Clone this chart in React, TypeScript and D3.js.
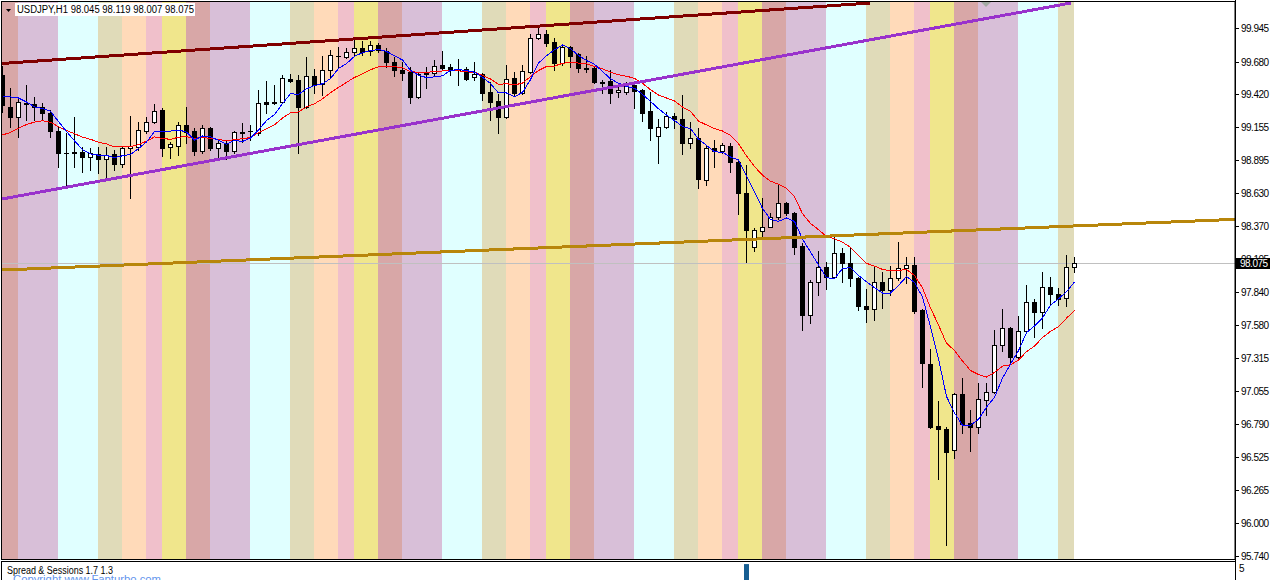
import { useEffect } from "react"
import * as d3 from "d3"

const width = 1275
const height = 580

const symbolTitle = "USDJPY,H1"
const indicatorTitle = "Spread & Sessions 1.7 1.3"
const copyrightText = "Copyright www.Fapturbo.com"

// H1 candles, left to right (bar 0 is cut by the left border)
const opens = [
  99.573, 99.318, 99.239, 99.354, 99.342, 99.318, 99.27, 99.127, 98.952, 98.956,
  98.96, 98.92, 98.944, 98.904, 98.944, 98.864, 98.991, 98.999, 99.127, 99.199,
  99.294, 98.999, 99.007, 99.175, 99.127, 98.968, 99.151, 98.991, 99.031, 98.968,
  99.115, 99.123, 99.111, 99.358, 99.354, 99.358, 99.541, 99.533, 99.318, 99.565,
  99.502, 99.613, 99.725, 99.717, 99.757, 99.788, 99.765, 99.812, 99.765, 99.677,
  99.613, 99.597, 99.398, 99.597, 99.589, 99.653, 99.637, 99.621, 99.621, 99.557,
  99.581, 99.438, 99.366, 99.239, 99.549, 99.43, 99.597, 99.868, 99.9, 99.836,
  99.669, 99.796, 99.741, 99.629, 99.629, 99.517, 99.525, 99.438, 99.438, 99.494,
  99.454, 99.286, 99.087, 99.159, 99.246, 99.223, 99.031, 99.071, 98.736, 98.991,
  98.968, 99.007, 98.88, 98.633, 98.202, 98.33, 98.362, 98.442, 98.553, 98.473,
  98.21, 97.66, 97.923, 98.043, 97.963, 98.155, 98.075, 97.955, 97.732, 97.708,
  97.923, 97.86, 97.955, 98.035, 98.059, 97.7, 97.27, 96.776, 96.752, 96.584,
  97.031, 96.8, 96.768, 96.983, 97.047, 97.421, 97.557, 97.326, 97.533, 97.764,
  97.684, 97.884, 97.828, 97.796, 98.045,
]
const highs = [
  99.645, 99.47, 99.398, 99.494, 99.398, 99.35, 99.294, 99.159, 99.111, 99.239,
  98.999, 98.991, 98.999, 98.999, 98.975, 98.999, 99.246, 99.199, 99.239, 99.342,
  99.31, 99.039, 99.199, 99.318, 99.151, 99.175, 99.159, 99.055, 99.055, 99.127,
  99.191, 99.175, 99.454, 99.525, 99.494, 99.573, 99.581, 99.573, 99.717, 99.621,
  99.725, 99.772, 99.796, 99.788, 99.868, 99.844, 99.844, 99.828, 99.788, 99.717,
  99.677, 99.637, 99.597, 99.637, 99.693, 99.765, 99.661, 99.701, 99.637, 99.677,
  99.589, 99.517, 99.422, 99.653, 99.597, 99.653, 99.9, 99.948, 99.932, 99.868,
  99.812, 99.804, 99.749, 99.725, 99.637, 99.533, 99.613, 99.486, 99.517, 99.509,
  99.462, 99.438, 99.223, 99.278, 99.27, 99.414, 99.199, 99.151, 99.007, 99.055,
  99.031, 99.031, 98.884, 98.856, 98.354, 98.593, 98.473, 98.705, 98.561, 98.481,
  98.234, 97.939, 98.171, 98.083, 98.282, 98.194, 98.194, 97.963, 97.868, 98.043,
  98.003, 98.051, 98.242, 98.123, 98.123, 97.708, 97.389, 96.975, 96.768, 97.039,
  97.158, 96.903, 97.118, 97.118, 97.541, 97.708, 97.565, 97.652, 97.9, 97.788,
  98.003, 97.963, 97.876, 98.139, 98.119,
]
const lows = [
  99.278, 99.159, 99.079, 99.215, 99.215, 99.215, 99.079, 98.84, 98.697, 98.84,
  98.8, 98.816, 98.792, 98.752, 98.816, 98.84, 98.593, 98.975, 99.111, 99.191,
  98.928, 98.912, 98.936, 99.031, 98.936, 98.952, 98.975, 98.912, 98.904, 98.952,
  99.039, 99.055, 99.095, 99.27, 99.342, 99.35, 99.517, 98.952, 99.31, 99.43,
  99.414, 99.549, 99.637, 99.709, 99.725, 99.733, 99.733, 99.757, 99.637, 99.565,
  99.533, 99.35, 99.39, 99.47, 99.573, 99.621, 99.573, 99.494, 99.533, 99.533,
  99.374, 99.215, 99.111, 99.231, 99.414, 99.425, 99.589, 99.86, 99.804, 99.613,
  99.653, 99.637, 99.597, 99.597, 99.509, 99.43, 99.35, 99.398, 99.422, 99.31,
  99.207, 99.055, 98.872, 99.151, 99.151, 98.944, 98.991, 98.673, 98.697, 98.84,
  98.952, 98.8, 98.465, 98.083, 98.171, 98.274, 98.362, 98.426, 98.457, 98.147,
  97.541, 97.597, 97.82, 97.868, 97.955, 97.923, 97.892, 97.7, 97.605, 97.621,
  97.716, 97.82, 97.939, 97.915, 97.676, 97.087, 96.76, 96.353, 95.827, 96.521,
  96.72, 96.577, 96.72, 96.863, 97.039, 97.374, 97.278, 97.318, 97.517, 97.485,
  97.557, 97.74, 97.74, 97.732, 98.007,
]
const closes = [
  99.334, 99.239, 99.358, 99.346, 99.318, 99.27, 99.127, 98.952, 98.948, 98.948,
  98.92, 98.952, 98.904, 98.936, 98.864, 98.991, 99.007, 99.135, 99.199, 99.286,
  98.991, 99.023, 99.175, 99.119, 98.968, 99.151, 98.991, 99.031, 98.968, 99.119,
  99.111, 99.127, 99.35, 99.342, 99.358, 99.549, 99.525, 99.318, 99.565, 99.494,
  99.613, 99.733, 99.721, 99.757, 99.788, 99.757, 99.812, 99.772, 99.677, 99.613,
  99.589, 99.398, 99.581, 99.581, 99.645, 99.629, 99.613, 99.613, 99.541, 99.581,
  99.43, 99.358, 99.239, 99.541, 99.43, 99.605, 99.868, 99.9, 99.828, 99.669,
  99.796, 99.725, 99.629, 99.625, 99.517, 99.513, 99.43, 99.454, 99.494, 99.446,
  99.27, 99.151, 99.159, 99.246, 99.223, 99.031, 99.071, 98.744, 98.991, 98.968,
  99.015, 98.88, 98.633, 98.338, 98.338, 98.362, 98.442, 98.553, 98.473, 98.202,
  97.66, 97.923, 98.043, 97.963, 98.155, 98.075, 97.955, 97.732, 97.708, 97.923,
  97.86, 97.955, 98.035, 98.059, 97.692, 97.278, 96.768, 96.752, 96.569, 97.031,
  96.792, 96.768, 96.991, 97.047, 97.421, 97.557, 97.326, 97.533, 97.764, 97.684,
  97.884, 97.828, 97.788, 98.043, 98.075,
]

// fast MA (SMA 5) values before a full window exists, slow MA (EMA 13) start value
const fastMaHead = [99.406, 99.398, 99.39, 99.358]
const slowMaStart = 99.095

// price scale labels as MT4 prints them
const priceTicks = [
  99.945, 99.68, 99.42, 99.155, 98.895, 98.63, 98.37, 98.105, 97.84, 97.58, 97.315,
  97.055, 96.79, 96.525, 96.265, 96.0, 95.74,
]

// trading sessions, hours per session through the day
const sessionHours = [3, 5, 5, 3, 3, 2, 3]
const sessionColors = ["#d8a7a7", "#d8bfd8", "#e0ffff", "#e0dbb9", "#ffdab9", "#f0c0cb", "#f0e68c"]
const firstDayBar = -1

// trend lines: [bar, price] anchors
const resistanceLine = [[0, 99.665], [108.5, 100.147]]
const channelLine = [[0, 98.585], [133.6, 100.147]]
const supportRay = [[0, 98.019], [134, 98.37]]

// spread histogram in the sub window
const spreadBars = [{ bar: 93, value: 5.7 }]

const fmt = d3.format(".3f")

export default function App() {
  useEffect(() => {
    document.body.style.margin = "0"
  }, [])

  const plot = { left: 2, top: 2, right: 1235, bottom: 559 }
  const n = closes.length

  const x = d3.scaleLinear().domain([0, 154.125]).range([plot.left, plot.right])
  const y = d3.scaleLinear().domain([95.716, 100.155]).range([plot.bottom, plot.top])
  const spreadY = d3.scaleLinear().domain([0, 5]).range([596, 568])

  const px = (i: number) => Math.round(x(i))
  const py = (p: number) => Math.round(y(p))

  // moving averages
  const fastMa = closes.map((c, i) =>
    i < 4 ? fastMaHead[i] : d3.mean(closes.slice(i - 4, i + 1))!
  )
  const slowMa: number[] = []
  closes.forEach((c, i) => {
    slowMa.push(i === 0 ? slowMaStart : slowMa[i - 1] + ((c - slowMa[i - 1]) * 2) / 14)
  })
  const maLine = d3
    .line<number>()
    .x((_, i) => px(i) + 0.5)
    .y((v) => y(v))

  // session bands
  const bands: { x0: number; x1: number; color: string }[] = []
  for (let start = firstDayBar; start < n; start += 24) {
    let b = start
    sessionHours.forEach((h, k) => {
      const from = Math.max(b, 0)
      const to = Math.min(b + h, n - 1)
      if (to > from) bands.push({ x0: px(from), x1: px(to), color: sessionColors[k] })
      b += h
    })
  }

  const seg = (pts: number[][], ray: boolean) => {
    const [[b1, p1], [b2, p2]] = pts
    const x1 = x(b1)
    const y1 = y(p1)
    let x2 = x(b2)
    let y2 = y(p2)
    if (ray) {
      const k = (y2 - y1) / (x2 - x1)
      x2 = plot.right
      y2 = y1 + k * (x2 - x1)
    }
    return { x1, y1, x2, y2 }
  }
  const lines = [
    { ...seg(resistanceLine, false), color: "#800000" },
    { ...seg(channelLine, false), color: "#9932cc" },
    { ...seg(supportRay, true), color: "#b8860b" },
  ]

  const last = closes[n - 1]
  const lastY = py(last)
  const font = "'Liberation Sans', Arial, sans-serif"

  return (
    <svg width={width} height={height} style={{ display: "block", background: "#fff" }} fontFamily={font}>
      <defs>
        <clipPath id="plot">
          <rect x={plot.left} y={plot.top} width={plot.right - plot.left} height={plot.bottom - plot.top} />
        </clipPath>
      </defs>

      <g clipPath="url(#plot)">
        {bands.map((d, i) => (
          <rect key={i} x={d.x0} y={plot.top} width={d.x1 - d.x0} height={plot.bottom - plot.top} fill={d.color} />
        ))}

        <line x1={plot.left} x2={plot.right} y1={lastY + 0.5} y2={lastY + 0.5} stroke="#c0c0c0" />

        {/* wicks */}
        {closes.map((c, i) => (
          <line
            key={"w" + i}
            x1={px(i) + 0.5}
            x2={px(i) + 0.5}
            y1={py(highs[i])}
            y2={py(lows[i]) + 1}
            stroke="#000"
          />
        ))}
        {/* bodies */}
        {closes.map((c, i) => {
          const o = opens[i]
          const top = py(Math.max(o, c))
          const bot = py(Math.min(o, c))
          const cx = px(i)
          if (bot - top < 1) {
            return <line key={"b" + i} x1={cx - 2} x2={cx + 3} y1={top + 0.5} y2={top + 0.5} stroke="#000" />
          }
          return (
            <rect
              key={"b" + i}
              x={cx - 1.5}
              y={top + 0.5}
              width={4}
              height={bot - top}
              fill={c >= o ? "#fff" : "#000"}
              stroke="#000"
            />
          )
        })}

        <path d={maLine(slowMa)!} fill="none" stroke="#ff0000" strokeWidth={1} shapeRendering="crispEdges" />
        <path d={maLine(fastMa)!} fill="none" stroke="#0000ff" strokeWidth={1} shapeRendering="crispEdges" />

        {lines.map((l, i) => (
          <line
            key={i}
            x1={l.x1}
            y1={l.y1}
            x2={l.x2}
            y2={l.y2}
            stroke={l.color}
            strokeWidth={3}
            shapeRendering="crispEdges"
          />
        ))}

        <polygon points="981,2 991,2 986,7" fill="#a3aba3" />
      </g>

      {/* frame */}
      <rect x={1.5} y={1.5} width={plot.right - 1.5} height={plot.bottom - 1} fill="none" stroke="#000" />
      <line x1={1.5} x2={plot.right + 0.5} y1={561.5} y2={561.5} stroke="#000" />
      <line x1={1.5} x2={1.5} y1={561} y2={height} stroke="#000" />
      <line x1={plot.right + 0.5} x2={plot.right + 0.5} y1={0} y2={height} stroke="#000" />

      {/* header */}
      <rect x={15} y={3} width={180} height={13} fill="#fff" />
      <polygon points="6,9 11,9 8.5,12" fill="#000" />
      <text x={17} y={13} fontSize={10} fill="#000" textLength={177} lengthAdjust="spacingAndGlyphs">
        {`${symbolTitle}  ${fmt(opens[n - 1])} ${fmt(highs[n - 1])} ${fmt(lows[n - 1])} ${fmt(closes[n - 1])}`}
      </text>

      {/* price axis */}
      {priceTicks.map((v) => {
        const ty = py(v)
        return (
          <g key={v}>
            <line x1={plot.right + 1} x2={plot.right + 4} y1={ty + 0.5} y2={ty + 0.5} stroke="#000" />
            <text x={1241} y={ty + 4} fontSize={10} letterSpacing={-0.5} fill="#000">
              {fmt(v)}
            </text>
          </g>
        )
      })}
      <rect x={1236} y={lastY - 5} width={34} height={11} fill="#000" />
      <text x={1240} y={lastY + 4} fontSize={10} letterSpacing={-0.5} fill="#fff">
        {fmt(last)}
      </text>

      {/* sub window */}
      {spreadBars.map((d) => (
        <rect
          key={d.bar}
          x={px(d.bar) - 2}
          y={spreadY(d.value)}
          width={5}
          height={height - spreadY(d.value)}
          fill="#175e92"
        />
      ))}
      <text x={7} y={574} fontSize={10} fill="#000" textLength={106} lengthAdjust="spacingAndGlyphs">
        {indicatorTitle}
      </text>
      <text x={13} y={583} fontSize={10} fill="#6495ed" textLength={148} lengthAdjust="spacingAndGlyphs">
        {copyrightText}
      </text>
      <text x={1239} y={572} fontSize={10} fill="#000">
        5
      </text>
    </svg>
  )
}
